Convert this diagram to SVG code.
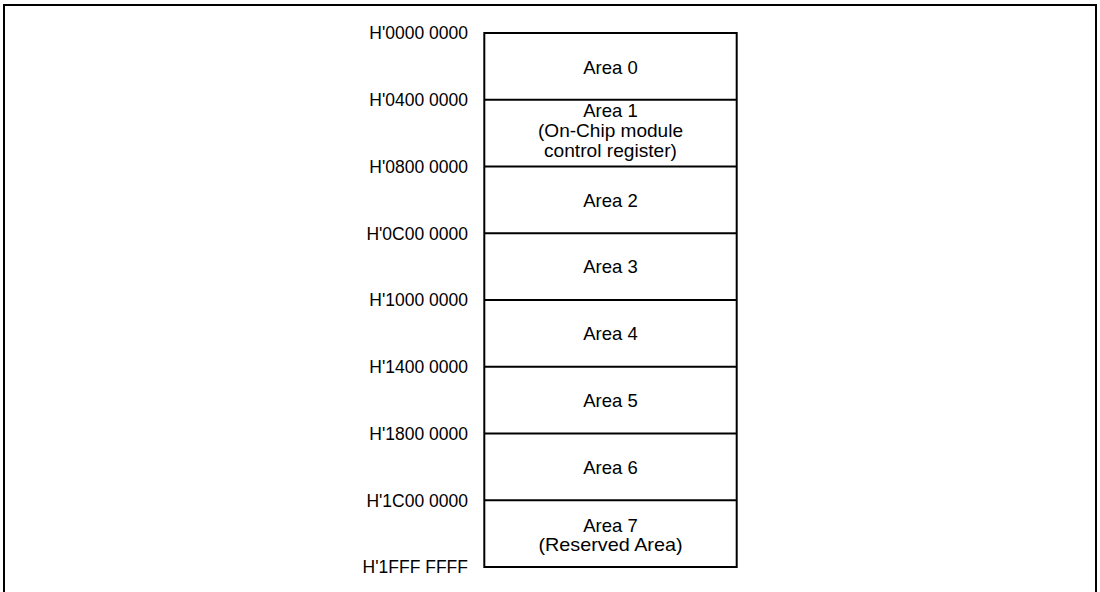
<svg xmlns="http://www.w3.org/2000/svg" width="1100" height="592" viewBox="0 0 1100 592">
<style>
.ln{stroke:#000;stroke-width:2;fill:none}
.lbl{font-family:"Liberation Sans",Arial,sans-serif;font-size:17.5px;fill:#000;text-anchor:end}
.ar{font-family:"Liberation Sans",Arial,sans-serif;font-size:18.5px;fill:#000;text-anchor:middle}
</style>
<rect x="0" y="0" width="1100" height="592" fill="#fff"/>
<rect class="ln" x="4" y="5" width="1092" height="620"/>
<g id="memory-map">
<rect class="ln" x="484.3" y="33" width="252.4" height="534"/>
</g>
<g id="connectors">
<line class="ln" x1="484.3" y1="99.75" x2="736.7" y2="99.75"/>
<line class="ln" x1="484.3" y1="166.5" x2="736.7" y2="166.5"/>
<line class="ln" x1="484.3" y1="233.25" x2="736.7" y2="233.25"/>
<line class="ln" x1="484.3" y1="300" x2="736.7" y2="300"/>
<line class="ln" x1="484.3" y1="366.75" x2="736.7" y2="366.75"/>
<line class="ln" x1="484.3" y1="433.5" x2="736.7" y2="433.5"/>
<line class="ln" x1="484.3" y1="500.25" x2="736.7" y2="500.25"/>
</g>
<g id="addresses">
<text class="lbl" x="468" y="39.3">H'0000 0000</text>
<text class="lbl" x="468" y="106">H'0400 0000</text>
<text class="lbl" x="468" y="172.8">H'0800 0000</text>
<text class="lbl" x="468" y="239.5">H'0C00 0000</text>
<text class="lbl" x="468" y="306.3">H'1000 0000</text>
<text class="lbl" x="468" y="373">H'1400 0000</text>
<text class="lbl" x="468" y="439.8">H'1800 0000</text>
<text class="lbl" x="468" y="506.5">H'1C00 0000</text>
<text class="lbl" x="468" y="573">H'1FFF FFFF</text>
</g>
<g id="area0"><text class="ar" x="610.5" y="73.5">Area 0</text></g>
<g id="area1">
<text class="ar" x="610.5" y="117">Area 1</text>
<text class="ar" x="610.5" y="137" textLength="145" lengthAdjust="spacingAndGlyphs">(On-Chip module</text>
<text class="ar" x="610.5" y="156.5" textLength="133" lengthAdjust="spacingAndGlyphs">control register)</text>
</g>
<g id="area2"><text class="ar" x="610.5" y="206.5">Area 2</text></g>
<g id="area3"><text class="ar" x="610.5" y="273.3">Area 3</text></g>
<g id="area4"><text class="ar" x="610.5" y="340">Area 4</text></g>
<g id="area5"><text class="ar" x="610.5" y="406.8">Area 5</text></g>
<g id="area6"><text class="ar" x="610.5" y="473.5">Area 6</text></g>
<g id="area7">
<text class="ar" x="610.5" y="532">Area 7</text>
<text class="ar" x="610.5" y="551" textLength="144" lengthAdjust="spacingAndGlyphs">(Reserved Area)</text>
</g>
</svg>
